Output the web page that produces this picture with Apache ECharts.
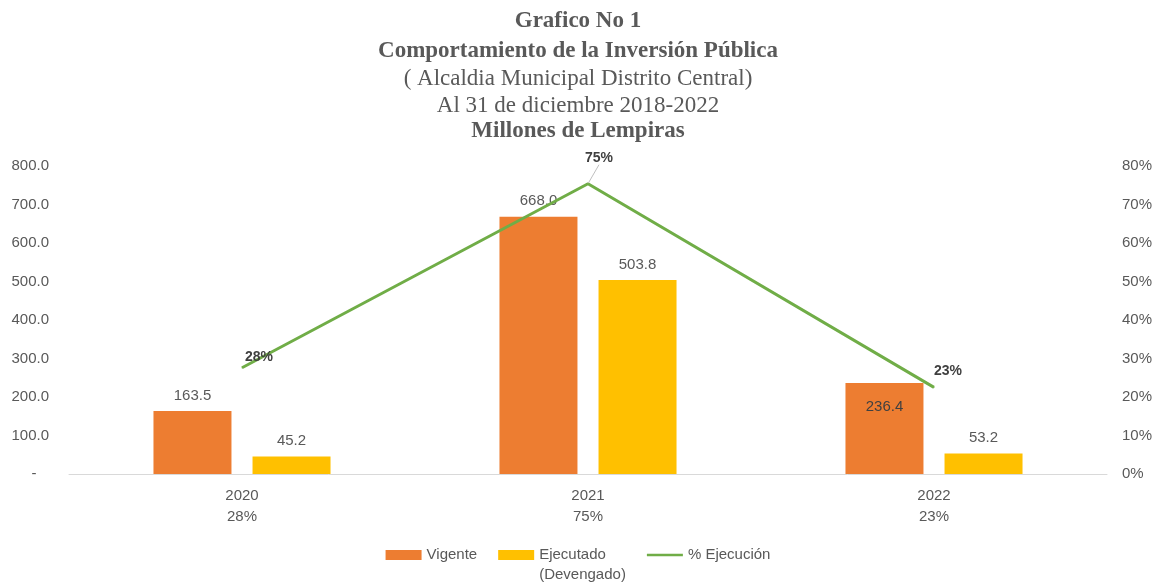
<!DOCTYPE html>
<html>
<head>
<meta charset="utf-8">
<script src="https://cdn.jsdelivr.net/npm/echarts@6/dist/echarts.min.js"></script>
<style>
html, body { margin: 0; padding: 0; background: #fff; }
#chart { width: 1156px; height: 583px; }
</style>
</head>
<body>
<div id="chart"></div>
<script>
// datos del grafico
var years = ['2020', '2021', '2022'];
var vigente = [163.5, 668.0, 236.4];
var ejecutado = [45.2, 503.8, 53.2];
var pctEjecucion = [0.276, 0.754, 0.225];

var titleLines = [
	['Grafico No 1', true],
	['Comportamiento de la Inversión Pública', true],
	['( Alcaldia Municipal Distrito Central)', false],
	['Al 31 de diciembre 2018-2022', false],
	['Millones de Lempiras', true]
];

// desplazamiento de las etiquetas de porcentaje
var pctOffsets = [[17, -11], [11, -26], [14, -16]];

var gray = '#595959';
var dark = '#404040';
var sans = 'Liberation Sans';

function pctText(v)
{
	return Math.round(v * 100) + '%';
}

var titles = [];
for(var i=0; i<titleLines.length; i++)
{
	titles.push({
		text: titleLines[i][0],
		left: 'center',
		top: [10, 40, 67, 94, 120][i],
		padding: 0,
		textStyle: {
			fontFamily: 'Liberation Serif',
			fontSize: 23,
			fontWeight: titleLines[i][1] ? 'bold' : 'normal',
			color: gray
		}
	});
}

var lineData = [];
for(var i=0; i<pctEjecucion.length; i++)
{
	lineData.push({
		value: pctEjecucion[i],
		label: { offset: pctOffsets[i] },
		labelLine: { show: i == 1, lineStyle: { color: '#bfbfbf', width: 1 } }
	});
}

var vigenteData = [];
for(var i=0; i<vigente.length; i++)
{
	// la etiqueta de 2022 queda dentro de la barra
	if(i == 2)
		vigenteData.push({ value: vigente[i], label: { position: 'insideTop', distance: 16, color: dark } });
	else
		vigenteData.push(vigente[i]);
}

var chart = echarts.init(document.getElementById('chart'));

chart.setOption({
	animation: false,
	title: titles,
	grid: { left: 69, right: 49, top: 166, bottom: 109, containLabel: false },
	legend: {
		left: 'center',
		top: 525,
		padding: 0,
		itemWidth: 36,
		itemHeight: 10,
		itemGap: 21,
		textStyle: { fontFamily: sans, fontSize: 15, color: gray, lineHeight: 20 },
		formatter: function(name)
		{
			if(name == 'Ejecutado')
				return ' \nEjecutado\n(Devengado)';
			return name;
		},
		data: [
			{ name: 'Vigente', icon: 'rect' },
			{ name: 'Ejecutado', icon: 'rect' },
			{ name: '% Ejecución', icon: 'path://M0,0H40V3H0Z' }
		]
	},
	xAxis: {
		type: 'category',
		data: years,
		axisLine: { lineStyle: { color: '#d9d9d9', width: 1 } },
		axisTick: { show: false },
		axisLabel: {
			margin: 11,
			fontFamily: sans,
			fontSize: 15,
			lineHeight: 21,
			color: gray,
			formatter: function(v, idx)
			{
				return v + '\n' + pctText(pctEjecucion[idx]);
			}
		}
	},
	yAxis: [
		{
			type: 'value',
			min: 0,
			max: 800,
			interval: 100,
			axisLine: { show: false },
			axisTick: { show: false },
			splitLine: { show: false },
			axisLabel: {
				margin: 20,
				fontFamily: sans,
				fontSize: 15,
				color: gray,
				formatter: function(v)
				{
					return v == 0 ? '-   ' : v.toFixed(1);
				}
			}
		},
		{
			type: 'value',
			min: 0,
			max: 0.8,
			interval: 0.1,
			axisLine: { show: false },
			axisTick: { show: false },
			splitLine: { show: false },
			axisLabel: {
				margin: 15,
				fontFamily: sans,
				fontSize: 15,
				color: gray,
				formatter: function(v)
				{
					return Math.round(v * 100) + '%';
				}
			}
		}
	],
	series: [
		{
			name: 'Vigente',
			type: 'bar',
			data: vigenteData,
			barWidth: 78,
			barGap: '27%',
			itemStyle: { color: '#ED7D31' },
			label: {
				show: true,
				position: 'top',
				distance: 8,
				fontFamily: sans,
				fontSize: 15,
				color: gray,
				formatter: function(p) { return p.value.toFixed(1); }
			}
		},
		{
			name: 'Ejecutado',
			type: 'bar',
			data: ejecutado,
			barWidth: 78,
			itemStyle: { color: '#FFC000' },
			label: {
				show: true,
				position: 'top',
				distance: 8,
				fontFamily: sans,
				fontSize: 15,
				color: gray,
				formatter: function(p) { return p.value.toFixed(1); }
			}
		},
		{
			name: '% Ejecución',
			type: 'line',
			yAxisIndex: 1,
			data: lineData,
			symbol: 'circle',
			symbolSize: 1,
			showSymbol: true,
			itemStyle: { color: '#70AD47' },
			lineStyle: { color: '#70AD47', width: 3 },
			label: {
				show: true,
				position: 'inside',
				fontFamily: sans,
				fontSize: 14,
				fontWeight: 'bold',
				color: dark,
				formatter: function(p) { return pctText(p.value); }
			}
		}
	]
});
</script>
</body>
</html>
